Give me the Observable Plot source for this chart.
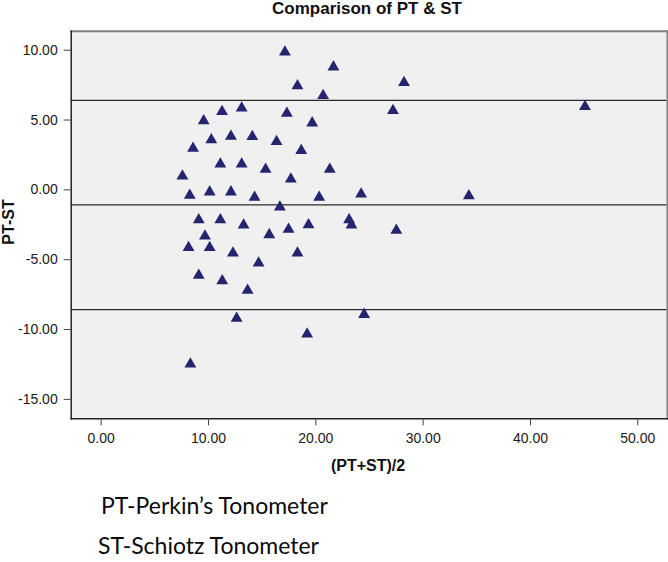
<!DOCTYPE html>
<html>
<head>
<meta charset="utf-8">
<script src="https://cdn.jsdelivr.net/npm/d3@7"></script>
<script src="https://cdn.jsdelivr.net/npm/@observablehq/plot@0.6"></script>
<style>
  html, body { margin: 0; padding: 0; background: #fff; }
  #wrap { position: relative; width: 668px; height: 562px; overflow: hidden; font-family: "Liberation Sans", Arial, sans-serif; }
  #chart { position: absolute; left: 0; top: 0; }
  .t { position: absolute; white-space: nowrap; color: #111; line-height: 1; }
  #title { left: 0; width: 734px; text-align: center; top: 0px; font-weight: bold; font-size: 17px; }
  #xlab { left: 0; width: 736px; text-align: center; top: 458px; font-weight: bold; font-size: 16px; }
  #ylab { left: -14px; top: 214px; width: 46px; text-align: center; font-weight: bold; font-size: 16px; transform: rotate(-90deg); transform-origin: 23px 8px; }
  .note { font-family: Lato, "Open Sans", sans-serif; font-size: 23px; color: #0a0a0a; }
  #n1 { left: 101px; top: 493.5px; }
  #n2 { left: 98px; top: 533.5px; }
</style>
</head>
<body>
<div id="wrap">
  <div id="chart"></div>
  <div class="t" id="title">Comparison of PT &amp; ST</div>
  <div class="t" id="xlab">(PT+ST)/2</div>
  <div class="t" id="ylab">PT-ST</div>
  <div class="t note" id="n1">PT-Perkin’s Tonometer</div>
  <div class="t note" id="n2">ST-Schiotz Tonometer</div>
</div>
<script>
// Mean of the two tonometers (x) and their difference PT-ST (y)
const means = [17.12, 21.64, 18.29, 20.68, 13.09, 11.26, 17.30, 9.55, 19.66, 10.26,
               12.09, 14.08, 16.34, 8.56, 18.64, 11.10, 13.09, 15.32, 21.30, 7.57,
               17.67, 8.25, 10.11, 12.09, 14.29, 20.31, 24.22, 16.65, 28.22, 27.19,
               45.08, 34.26, 19.32, 23.10, 23.32, 27.50, 24.50, 9.09, 11.10, 13.27,
               15.66, 17.46, 9.67, 8.14, 10.11, 12.28, 18.29, 14.67, 9.09, 11.28,
               13.64, 12.62, 19.19, 8.31];
const diffs = [9.87, 8.80, 7.44, 6.75, 5.86, 5.60, 5.48, 4.95, 4.79, 3.59,
               3.83, 3.81, 3.45, 2.97, 2.81, 1.85, 1.85, 1.47, 1.47, 0.99,
               0.78, -0.39, -0.15, -0.15, -0.54, -0.54, -0.30, -1.23, 7.68, 5.67,
               5.96, -0.42, -2.50, -2.14, -2.52, -2.90, -8.92, -2.14, -2.14, -2.52,
               -3.21, -2.83, -3.31, -4.14, -4.14, -4.52, -4.52, -5.24, -6.12, -6.51,
               -7.20, -9.20, -10.33, -12.48];
// Upper limit of agreement, mean difference, lower limit of agreement
const refLines = [6.41, -1.07, -8.58];
const xTicks = [0, 10, 20, 30, 40, 50];
const yTicks = [10, 5, 0, -5, -10, -15];

const points = means.map((m, i) => ({mean: m, diff: diffs[i]}));

const chart = Plot.plot({
  width: 668,
  height: 480,
  marginTop: 30.7,
  marginBottom: 61.7,
  marginLeft: 70.7,
  marginRight: 1.3,
  style: {fontFamily: "'Liberation Sans', Arial, sans-serif", fontSize: "14px", color: "#1a1a1a", background: "transparent"},
  x: {domain: [-2.795, 52.74]},
  y: {domain: [-16.39, 11.36]},
  marks: [
    Plot.frame({fill: "#f0f0f0", stroke: "none"}),
    Plot.ruleY(refLines, {stroke: "#2a2a2a", strokeWidth: 1.3}),
    Plot.dot(points, {x: "mean", y: "diff", symbol: "triangle", r: 4.4, fill: "#24246f", stroke: "none"}),
    Plot.frame({anchor: "top", stroke: "#808080", strokeWidth: 2}),
    Plot.frame({anchor: "right", stroke: "#808080", strokeWidth: 1.5}),
    Plot.frame({anchor: "left", stroke: "#222", strokeWidth: 1.5}),
    Plot.frame({anchor: "bottom", stroke: "#222", strokeWidth: 1.5}),
    Plot.axisX({ticks: xTicks, tickFormat: d => d.toFixed(2), tickSize: 7, tickPadding: 7.5, fontSize: 14, label: null, stroke: "#444"}),
    Plot.axisY({ticks: yTicks, tickFormat: d => d.toFixed(2), tickSize: 7, tickPadding: 6.5, fontSize: 14, label: null, stroke: "#444"})
  ]
});
document.getElementById("chart").appendChild(chart);
</script>
</body>
</html>
